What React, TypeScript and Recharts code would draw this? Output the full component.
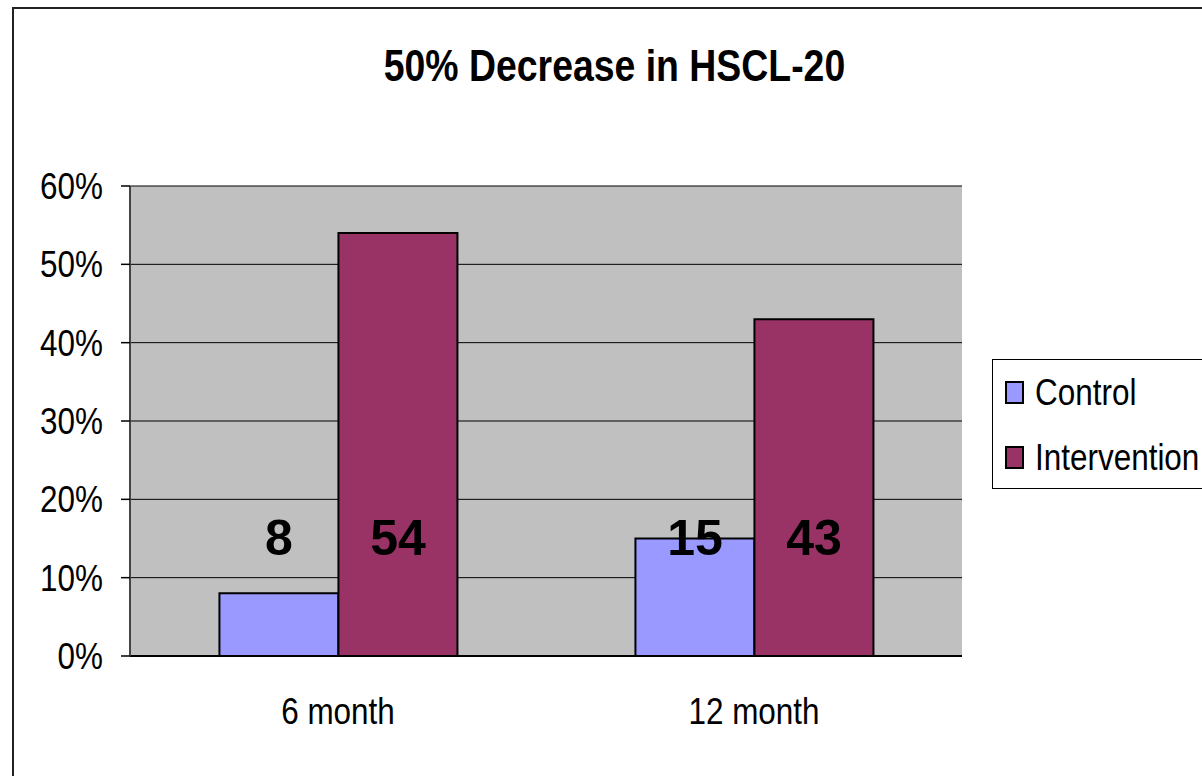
import {
  BarChart,
  Bar,
  XAxis,
  YAxis,
  CartesianGrid,
  Legend,
  LabelList,
} from "recharts";

const categories = ["6 month", "12 month"];
const controlPct = [8, 15];
const interventionPct = [54, 43];
const yTicks = [0, 10, 20, 30, 40, 50, 60];
const edgeTicks = [0, 1, 2];

const seriesColors = {
  control: "#9999FF",
  intervention: "#993366",
};

const FONT = "'Liberation Sans', Arial, sans-serif";
// the text in this chart uses a condensed face; squeeze Liberation Sans to fit
const SQUEEZE = 0.85;

const data = categories.map((month, i) => ({
  month,
  Control: controlPct[i],
  Intervention: interventionPct[i],
}));

function NoTick() {
  return null;
}

function YTick({ x, y, payload }: { x: number; y: number; payload: { value: number } }) {
  return (
    <g transform={`translate(${x},${y})`}>
      <text
        transform={`scale(${SQUEEZE},1)`}
        textAnchor="end"
        dy="0.355em"
        fill="#000"
        fontFamily={FONT}
        fontSize={37}
      >
        {`${payload.value}%`}
      </text>
    </g>
  );
}

function XTick({ x, y, payload }: { x: number; y: number; payload: { value: string } }) {
  return (
    <g transform={`translate(${x},${y})`}>
      <text
        transform={`scale(${SQUEEZE},1)`}
        textAnchor="middle"
        dy="0.71em"
        fill="#000"
        fontFamily={FONT}
        fontSize={37}
      >
        {payload.value}
      </text>
    </g>
  );
}

function LegendBox({ payload }: { payload?: { value: string; color: string }[] }) {
  if (!payload) return null;
  return (
    <div>
      {payload.map((item) => (
        <div
          key={item.value}
          style={{ display: "flex", alignItems: "center", height: 65 }}
        >
          <div
            style={{
              width: 15,
              height: 19,
              marginLeft: 12,
              marginRight: 11,
              background: item.color,
              border: "2px solid #000",
              flexShrink: 0,
            }}
          />
          <span
            style={{
              display: "inline-block",
              fontFamily: FONT,
              fontSize: 37,
              color: "#000",
              whiteSpace: "nowrap",
              transform: `scaleX(${SQUEEZE})`,
              transformOrigin: "left center",
            }}
          >
            {item.value}
          </span>
        </div>
      ))}
    </div>
  );
}

export default function App() {
  return (
    <div
      style={{
        position: "absolute",
        left: 0,
        top: 0,
        width: 1202,
        height: 776,
        overflow: "hidden",
        background: "#fff",
      }}
    >
      {/* outer chart frame, runs off the right and bottom edges */}
      <div
        style={{
          position: "absolute",
          left: 12,
          top: 7,
          width: 1400,
          height: 1000,
          borderLeft: "2px solid #222",
          borderTop: "2px solid #222",
        }}
      />
      <div
        style={{
          position: "absolute",
          left: 0,
          top: 42,
          width: 1229,
          textAlign: "center",
          lineHeight: "48px",
        }}
      >
        <span
          style={{
            display: "inline-block",
            fontFamily: FONT,
            fontWeight: "bold",
            fontSize: 44,
            color: "#000",
            whiteSpace: "nowrap",
            transform: `scaleX(${SQUEEZE})`,
          }}
        >
          50% Decrease in HSCL-20
        </span>
      </div>
      <div style={{ position: "absolute", left: 0, top: 0 }}>
        <BarChart
          width={1202}
          height={776}
          data={data}
          margin={{ top: 186, right: 240, bottom: 0, left: 0 }}
          barCategoryGap="21.5%"
          barGap={0}
        >
          <CartesianGrid
            vertical={false}
            fill="#C0C0C0"
            fillOpacity={1}
            stroke="#000"
            strokeWidth={1}
          />
          <XAxis
            xAxisId="edges"
            type="number"
            domain={[0, 2]}
            ticks={edgeTicks}
            height={0}
            axisLine={false}
            tick={NoTick}
            tickSize={10}
            tickLine={{ stroke: "#000", strokeWidth: 1.5 }}
          />
          <XAxis
            dataKey="month"
            height={120}
            tickLine={false}
            tickSize={0}
            tickMargin={42}
            axisLine={{ stroke: "#000", strokeWidth: 2 }}
            tick={XTick}
          />
          <XAxis
            xAxisId="top"
            orientation="top"
            type="number"
            domain={[0, 1]}
            height={0}
            tick={false}
            tickLine={false}
            axisLine={{ stroke: "#808080", strokeWidth: 3 }}
          />
          <YAxis
            domain={[0, 60]}
            ticks={yTicks}
            width={130}
            tickSize={9}
            tickMargin={18}
            axisLine={{ stroke: "#444", strokeWidth: 2 }}
            tickLine={{ stroke: "#000", strokeWidth: 1.5 }}
            tick={YTick}
          />
          <YAxis
            yAxisId="right"
            orientation="right"
            width={0}
            tick={false}
            tickLine={false}
            axisLine={{ stroke: "#808080", strokeWidth: 3 }}
          />
          <Legend
            layout="vertical"
            align="center"
            verticalAlign="middle"
            content={<LegendBox />}
            wrapperStyle={{
              left: 992,
              top: 359,
              width: 260,
              height: 130,
              border: "1px solid #000",
              background: "#fff",
              boxSizing: "border-box",
            }}
          />
          <Bar
            dataKey="Control"
            fill={seriesColors.control}
            stroke="#000"
            strokeWidth={2}
            isAnimationActive={false}
          >
            <LabelList
              dataKey="Control"
              position="insideBottom"
              offset={101}
              fill="#000"
              fontFamily={FONT}
              fontWeight="bold"
              fontSize={50}
            />
          </Bar>
          <Bar
            dataKey="Intervention"
            fill={seriesColors.intervention}
            stroke="#000"
            strokeWidth={2}
            isAnimationActive={false}
          >
            <LabelList
              dataKey="Intervention"
              position="insideBottom"
              offset={101}
              fill="#000"
              fontFamily={FONT}
              fontWeight="bold"
              fontSize={50}
            />
          </Bar>
        </BarChart>
      </div>
    </div>
  );
}
